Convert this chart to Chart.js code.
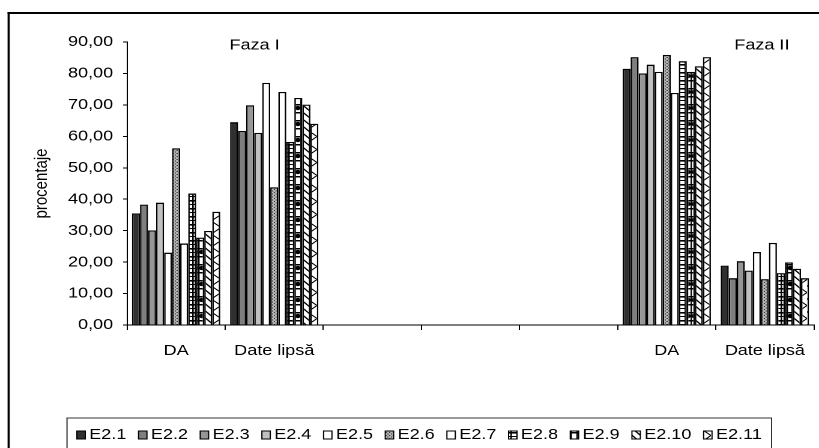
<!DOCTYPE html>
<html><head><meta charset="utf-8">
<script src="https://cdn.jsdelivr.net/npm/chart.js@4.4.1/dist/chart.umd.min.js"></script>
<style>
html,body{margin:0;padding:0;background:#fff;overflow:hidden;width:819px;height:448px;}
#wrap{position:absolute;left:0;top:0;width:682.5px;height:448px;transform:scaleX(1.2);transform-origin:0 0;}
</style></head><body>
<div id="wrap"><canvas id="c"></canvas></div>
<script>
// ---- data ----
const categories = ['DA', 'Date lipsă', '', '', '', 'DA', 'Date lipsă'];
const seriesNames = ['E2.1', 'E2.2', 'E2.3', 'E2.4', 'E2.5', 'E2.6', 'E2.7', 'E2.8', 'E2.9', 'E2.10', 'E2.11'];
const E2_1  = [35.5, 64.5, null, null, null, 81.5, 18.9];
const E2_2  = [38.3, 61.7, null, null, null, 85.2, 14.9];
const E2_3  = [30.1, 69.9, null, null, null, 80.0, 20.3];
const E2_4  = [38.9, 61.1, null, null, null, 82.8, 17.3];
const E2_5  = [23.0, 77.0, null, null, null, 80.5, 23.2];
const E2_6  = [56.2, 43.8, null, null, null, 85.9, 14.6];
const E2_7  = [25.9, 74.1, null, null, null, 73.8, 26.1];
const E2_8  = [41.8, 58.2, null, null, null, 83.9, 16.5];
const E2_9  = [27.8, 72.2, null, null, null, 80.5, 19.9];
const E2_10 = [29.9, 70.1, null, null, null, 82.3, 17.9];
const E2_11 = [36.0, 64.0, null, null, null, 85.2, 14.9];
const seriesValues = [E2_1, E2_2, E2_3, E2_4, E2_5, E2_6, E2_7, E2_8, E2_9, E2_10, E2_11];
const yTicks = [0, 10, 20, 30, 40, 50, 60, 70, 80, 90];
const yTickLabels = ['0,00', '10,00', '20,00', '30,00', '40,00', '50,00', '60,00', '70,00', '80,00', '90,00'];
const yTitle = 'procentaje';
const phaseLabels = ['Faza I', 'Faza II'];

// ---- fills ----
const FONT = "'Liberation Sans', Arial, sans-serif";
function tile(w, h, draw) {
  const c = document.createElement('canvas');
  c.width = Math.round(w * 4); c.height = Math.round(h * 4);
  const g = c.getContext('2d');
  g.scale(4, 4);
  draw(g, w, h);
  const p = document.createElement('canvas').getContext('2d').createPattern(c, 'repeat');
  p.setTransform(new DOMMatrix().scale(0.25, 0.25));
  return p;
}
const fills = [
  '#303030',
  '#7f7f7f',
  '#969696',
  '#c0c0c0',
  '#ffffff',
  tile(3, 3, (g) => { g.fillStyle = '#b4b4b4'; g.fillRect(0, 0, 3, 3); g.fillStyle = '#333'; g.fillRect(0, 0, 1, 1); g.fillRect(1.5, 1.5, 1, 1); }),
  '#ffffff',
  tile(5, 8, (g, w, h) => { g.fillStyle = '#fff'; g.fillRect(0, 0, w, h); g.fillStyle = '#000'; g.fillRect(0, 0, w, 1.6); g.fillRect(0, 4, w, 1); g.fillRect(0, 0, 1.3, h); }),
  tile(5, 16, (g, w, h) => { g.fillStyle = '#fff'; g.fillRect(0, 0, w, h); g.fillStyle = '#000'; g.fillRect(0, 0, w, 1.5); g.fillRect(0, 8, w, 1.5); g.fillRect(0, 0, 1.2, h); g.beginPath(); g.arc(3, 12, 2.2, 0, Math.PI * 2); g.fill(); }),
  tile(7, 7, (g, w, h) => { g.fillStyle = '#fff'; g.fillRect(0, 0, w, h); g.strokeStyle = '#000'; g.lineWidth = 1.2; g.beginPath(); g.moveTo(-1, -1); g.lineTo(w + 1, h + 1); g.moveTo(-1, h - 1); g.lineTo(1, h + 1); g.moveTo(w - 1, -1); g.lineTo(w + 1, 1); g.stroke(); }),
  tile(8, 13, (g, w, h) => { g.fillStyle = '#fff'; g.fillRect(0, 0, w, h); g.strokeStyle = '#000'; g.lineWidth = 1; g.beginPath(); g.moveTo(0, 0); g.lineTo(w, h / 2); g.lineTo(0, h); g.stroke(); })
];

const datasets = seriesNames.map((name, i) => ({
  label: name,
  data: seriesValues[i],
  backgroundColor: fills[i],
  borderColor: '#000',
  borderWidth: 1.3,
  categoryPercentage: 0.9,
  barPercentage: 1.0
}));

// ---- plugins ----
const framePlugin = {
  id: 'frame',
  beforeDraw(chart) {
    const ctx = chart.ctx;
    ctx.save();
    ctx.fillStyle = '#fff';
    ctx.fillRect(0, 0, chart.width, chart.height);
    ctx.fillStyle = '#000';
    ctx.fillRect(6.3, 12, 1.8, chart.height);
    ctx.fillRect(6.3, 12, chart.width, 2);
    ctx.restore();
  }
};
const phasePlugin = {
  id: 'phases',
  afterDatasetsDraw(chart, args, opts) {
    const ctx = chart.ctx, xs = chart.scales.x, ys = chart.scales.y;
    ctx.save();
    ctx.font = '15px ' + FONT;
    ctx.fillStyle = '#000';
    ctx.textAlign = 'center';
    ctx.textBaseline = 'middle';
    phaseLabels.forEach((t, i) => {
      ctx.fillText(t, xs.getPixelForValue(opts.at[i]), ys.getPixelForValue(opts.yValue));
    });
    ctx.restore();
  }
};
const legendPlugin = {
  id: 'boxLegend',
  afterDraw(chart, args, o) {
    const ctx = chart.ctx;
    ctx.save();
    ctx.font = '15px ' + FONT;
    ctx.textBaseline = 'middle';
    ctx.textAlign = 'left';
    ctx.strokeStyle = '#333';
    ctx.lineWidth = 1;
    ctx.strokeRect(o.left, o.top, o.right - o.left, chart.height + 10 - o.top);
    const items = chart.data.datasets.map(d => ({ label: d.label, fill: d.backgroundColor }));
    let total = 0;
    items.forEach((it, i) => { it.w = ctx.measureText(it.label).width; total += o.box + o.gap + it.w + (i < items.length - 1 ? o.sep : 0); });
    let x = (o.left + o.right) / 2 - total / 2;
    items.forEach(it => {
      ctx.fillStyle = it.fill;
      ctx.fillRect(x, o.y - o.boxH / 2, o.box, o.boxH);
      ctx.strokeStyle = '#000';
      ctx.strokeRect(x, o.y - o.boxH / 2, o.box, o.boxH);
      ctx.fillStyle = '#000';
      ctx.fillText(it.label, x + o.box + o.gap, o.y);
      x += o.box + o.gap + it.w + o.sep;
    });
    ctx.restore();
  }
};

Chart.defaults.font.family = FONT;
Chart.defaults.font.size = 15;
Chart.defaults.color = '#000';

new Chart(document.getElementById('c'), {
  type: 'bar',
  data: { labels: categories, datasets },
  plugins: [framePlugin, phasePlugin, legendPlugin],
  options: {
    responsive: true,
    maintainAspectRatio: false,
    devicePixelRatio: 2,
    animation: false,
    layout: { padding: { left: 0, right: 3.3, top: 42, bottom: 83 } },
    plugins: {
      legend: { display: false },
      tooltip: { enabled: false },
      phases: { at: [0.8, 5.97], yValue: 89 },
      boxLegend: { left: 55.8, right: 642.5, top: 418, y: 435, box: 7, boxH: 8, gap: 3.3, sep: 10.2 }
    },
    scales: {
      x: {
        afterFit(s) { s.height = 40; },
        grid: { display: true, drawOnChartArea: false, drawTicks: true, tickLength: 5, color: '#000', lineWidth: 1, offset: true },
        border: { display: true, color: '#000', width: 1 },
        ticks: { padding: 12, maxRotation: 0, autoSkip: false, font: { size: 15 } }
      },
      y: {
        min: 0, max: 90,
        afterFit(s) { s.width = 105.8; },
        afterBuildTicks(s) { s.ticks = yTicks.map(v => ({ value: v })); },
        grid: { display: true, drawOnChartArea: false, drawTicks: true, tickLength: 3.3, color: '#000', lineWidth: 1 },
        border: { display: true, color: '#000', width: 1 },
        ticks: { padding: 8.3, font: { size: 15 }, callback: (v) => yTickLabels[yTicks.indexOf(v)] },
        title: { display: true, text: yTitle, font: { size: 15 }, padding: { top: 26, bottom: 0 } }
      }
    }
  }
});
</script>
</body></html>
